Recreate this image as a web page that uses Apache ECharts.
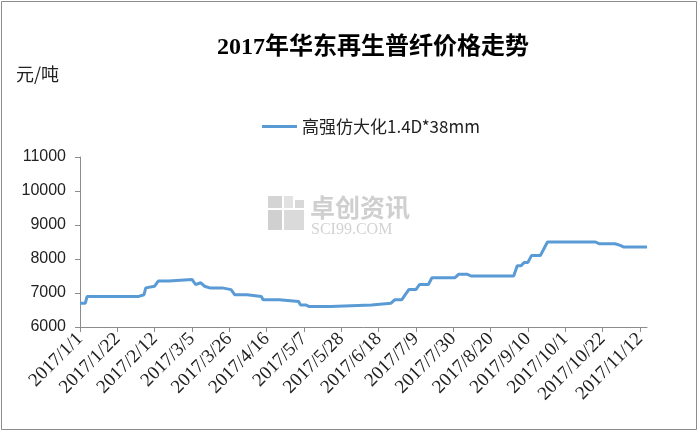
<!DOCTYPE html>
<html><head><meta charset="utf-8">
<script src="https://cdn.jsdelivr.net/npm/echarts@6/dist/echarts.min.js"></script>
<style>html,body{margin:0;padding:0;background:#fff}#c{width:700px;height:433px}</style>
</head><body><div id="c"></div>
<script>
// Categories: every calendar day from 2017/1/1 to 2017/11/16
const startYear = 2017, dayCount = 320;
const categories = [];
for (let i = 0; i < dayCount; i++) {
  const d = new Date(Date.UTC(startYear, 0, 1 + i));
  categories.push(d.getUTCFullYear() + '/' + (d.getUTCMonth() + 1) + '/' + d.getUTCDate());
}
// Price change points: day index (from 2017/1/1) and price (元/吨)
const pointDays = [0,3,4,33,34,36,37,38,42,44,50,51,63,65,66,68,70,73,80,81,85,87,94,95,102,103,112,113,123,124,127,129,141,142,164,165,175,176,177,181,183,185,189,191,196,198,211,213,218,220,244,246,248,250,252,254,259,261,263,290,292,301,304,306,319];
const pointPrices = [6700,6700,6900,6900,6950,6950,7150,7200,7200,7350,7350,7400,7400,7250,7250,7300,7200,7150,7150,7100,7100,6950,6950,6900,6900,6800,6800,6750,6750,6650,6650,6600,6600,6650,6650,6700,6700,6750,6800,6800,6950,7100,7100,7250,7250,7450,7450,7550,7550,7500,7500,7800,7800,7900,7900,8100,8100,8300,8500,8500,8450,8450,8400,8350,8350];
const seriesName = '高强仿大化1.4D*38mm';
const yTicks = [6000, 7000, 8000, 9000, 10000, 11000];

const chart = echarts.init(document.getElementById('c'), null, {renderer: 'canvas'});
const lineData = pointDays.map((d, i) => [d, pointPrices[i]]);
chart.setOption({
  animation: false,
  backgroundColor: '#fff',
  title: {
    text: '2017年华东再生普纤价格走势',
    left: 212, top: 31,
    textStyle: {fontSize: 24, fontWeight: 'bold', color: '#000', fontFamily: 'Liberation Serif, "Noto Sans CJK SC"'}
  },
  legend: {
    data: [seriesName],
    icon: 'rect',
    left: 257, top: 113,
    itemWidth: 35, itemHeight: 3, itemGap: 5,
    textStyle: {fontSize: 17, color: '#222', fontFamily: '"Noto Sans CJK SC"'}
  },
  graphic: [
    {type: 'rect', shape: {x: 1.5, y: 1.5, width: 695, height: 428}, style: {fill: 'none', stroke: '#8c8c8c', lineWidth: 1}, silent: true},
    {type: 'text', left: 16, top: 65, style: {text: '元/吨', fontSize: 18, fill: '#222', fontFamily: '"Noto Sans CJK SC"'}},
    {type: 'group', left: 268, top: 196, children: [
      {type: 'rect', shape: {x: 0, y: 0, width: 14, height: 12}, style: {fill: '#d4d4d4'}},
      {type: 'rect', shape: {x: 16, y: 0, width: 9, height: 12}, style: {fill: '#e2e2e2'}},
      {type: 'rect', shape: {x: 27, y: 4, width: 9, height: 8}, style: {fill: '#d8d8d8'}},
      {type: 'rect', shape: {x: 0, y: 14, width: 14, height: 20}, style: {fill: '#d0d0d0'}},
      {type: 'rect', shape: {x: 16, y: 14, width: 20, height: 20}, style: {fill: '#dadada'}}
    ]},
    {type: 'text', left: 310, top: 195, style: {text: '卓创资讯', fontSize: 25, fill: '#cfcfcf', fontWeight: 'bold', fontFamily: '"Noto Sans CJK SC"'}},
    {type: 'text', left: 311, top: 222, style: {text: 'SCI99.COM', fontSize: 16, fill: '#d3d3d3', fontFamily: 'Liberation Serif'}}
  ],
  grid: {left: 80, right: 53, top: 157, bottom: 106, containLabel: false},
  xAxis: {
    type: 'category',
    data: categories,
    boundaryGap: false,
    axisLine: {lineStyle: {color: '#8c8c8c', width: 1}},
    axisTick: {interval: 20, length: 5, lineStyle: {color: '#8c8c8c'}},
    axisLabel: {interval: 20, rotate: 45, margin: 9, fontSize: 19, color: '#222', fontFamily: 'Liberation Serif'},
    splitLine: {show: false}
  },
  yAxis: {
    type: 'value',
    min: yTicks[0], max: yTicks[yTicks.length - 1], interval: 1000,
    axisLine: {show: true, lineStyle: {color: '#8c8c8c', width: 1}},
    axisTick: {show: true, length: 5, lineStyle: {color: '#8c8c8c'}},
    axisLabel: {margin: 14, fontSize: 16, color: '#222', fontFamily: 'Liberation Sans', formatter: v => String(v)},
    splitLine: {show: false}
  },
  series: [{
    name: seriesName,
    type: 'line',
    data: lineData,
    symbol: 'none',
    lineStyle: {color: '#5B9BD5', width: 3},
    itemStyle: {color: '#5B9BD5'}
  }]
});
</script></body></html>
